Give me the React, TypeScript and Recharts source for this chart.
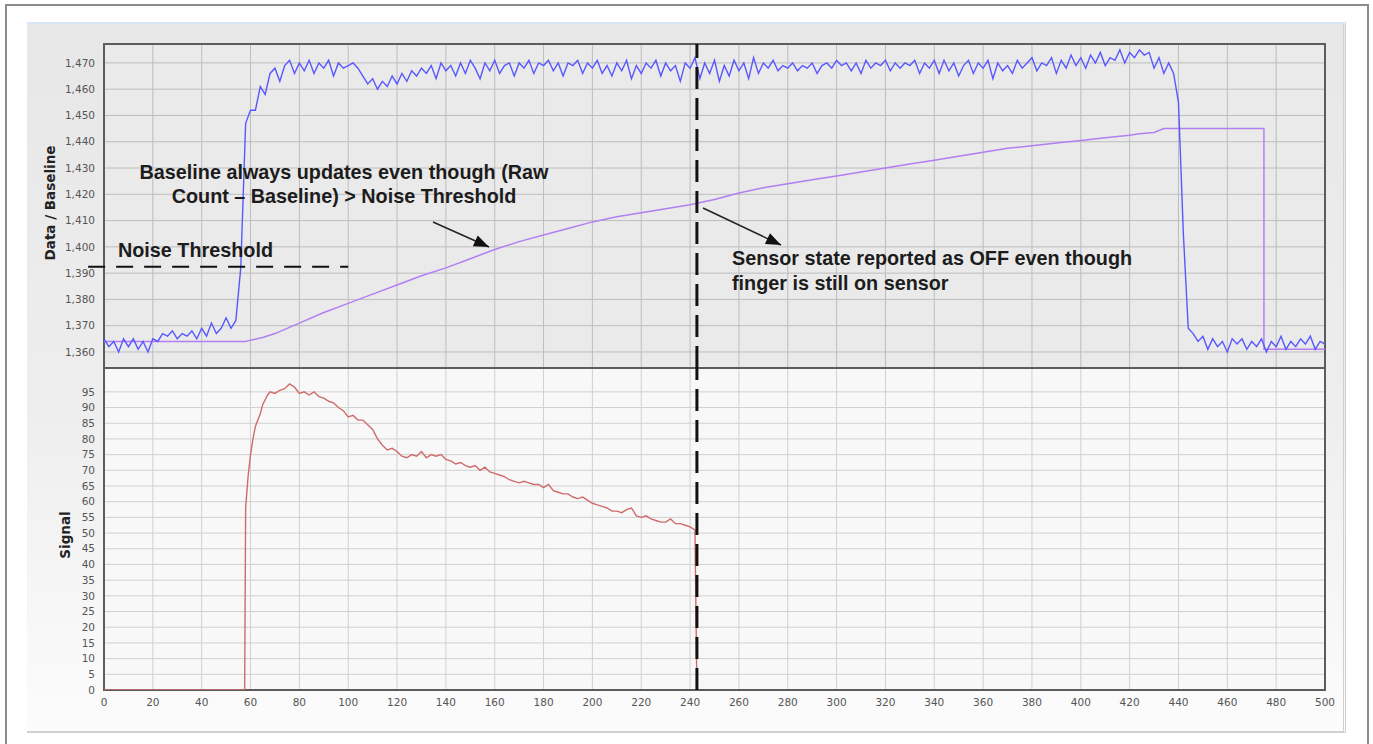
import {
  LineChart,
  Line,
  XAxis,
  YAxis,
  CartesianGrid,
  ReferenceLine,
  ReferenceArea,
} from "recharts";

// sample index -> time, raw counts were logged every 2 samples
const rawStep = 2;

const xTicks = [0, 20, 40, 60, 80, 100, 120, 140, 160, 180, 200, 220, 240, 260, 280, 300, 320, 340, 360, 380, 400, 420, 440, 460, 480, 500];
const dataTicks = [1360, 1370, 1380, 1390, 1400, 1410, 1420, 1430, 1440, 1450, 1460, 1470];
const signalTicks = [0, 5, 10, 15, 20, 25, 30, 35, 40, 45, 50, 55, 60, 65, 70, 75, 80, 85, 90, 95];

const dataDomain = [1353.9, 1477.2];
const signalDomain = [0, 102.6];

const rawCounts = [
  1365, 1362, 1364, 1360, 1365, 1362, 1365, 1361, 1364, 1360, 1365,
  1364, 1367, 1366, 1368, 1365, 1367, 1366, 1368, 1365, 1369,
  1366, 1371, 1367, 1369, 1373, 1369, 1372, 1392,
  1447, 1452, 1452, 1461, 1458,
  1466, 1468, 1463, 1469, 1471, 1466, 1470, 1467, 1471, 1466, 1470, 1468, 1471, 1465, 1470, 1468, 1469,
  1470, 1468, 1465, 1462, 1464, 1460, 1463, 1461, 1465, 1462, 1466, 1463, 1467,
  1465, 1468, 1466, 1469, 1464, 1470, 1467, 1469, 1465, 1470, 1466, 1471, 1468, 1464, 1470, 1467, 1471, 1466, 1469, 1470,
  1465, 1470, 1468, 1471, 1466, 1470, 1469, 1471, 1467, 1470, 1465, 1470, 1469, 1471, 1466, 1470, 1468,
  1471, 1466, 1469, 1465, 1470, 1467, 1471, 1464, 1469, 1466, 1470, 1468, 1471, 1465, 1470, 1467, 1469, 1463, 1470, 1468,
  1472, 1464, 1470, 1466, 1471, 1463, 1469, 1465, 1471, 1467, 1470, 1464, 1472, 1466, 1470, 1468, 1471, 1467, 1469, 1468,
  1470, 1467, 1469, 1468, 1470, 1466, 1469, 1470, 1468, 1471, 1469, 1470, 1467, 1470, 1466,
  1471, 1468, 1470, 1469, 1471, 1467, 1470, 1468, 1470, 1469, 1471, 1466, 1470, 1468, 1471,
  1466, 1471, 1467, 1470, 1465, 1469, 1471, 1466, 1470, 1468, 1471, 1464, 1470, 1467, 1469,
  1466, 1471, 1468, 1470, 1472, 1467, 1470, 1469, 1472, 1466, 1471, 1468, 1473, 1469, 1472,
  1468, 1473, 1470, 1474, 1469, 1472, 1471, 1475, 1470, 1474, 1472, 1475, 1473, 1474, 1468, 1472, 1466, 1470,
  1466, 1455, 1405, 1369, 1367, 1364, 1366, 1361, 1365, 1362, 1364, 1360, 1365, 1363, 1365, 1361,
  1364, 1362, 1365, 1360, 1364, 1362, 1366, 1361, 1364, 1362, 1365, 1363, 1366, 1361, 1364, 1363,
];

// [time, baseline]
const baselineTrace: [number, number][] = [
  [0, 1364], [58, 1364], [60, 1364.5], [65, 1365.5], [70, 1367], [80, 1371], [90, 1375],
  [100, 1378.5], [110, 1382], [120, 1385.5], [130, 1389], [140, 1392], [150, 1395.5],
  [160, 1399], [170, 1402], [180, 1404.5], [190, 1407], [200, 1409.5], [210, 1411.5],
  [220, 1413], [230, 1414.5], [240, 1416], [250, 1418], [260, 1420.5], [270, 1422.5],
  [280, 1424], [290, 1425.5], [300, 1427], [310, 1428.5], [320, 1430], [330, 1431.5],
  [340, 1433], [350, 1434.5], [360, 1436], [370, 1437.5], [380, 1438.5], [390, 1439.5],
  [400, 1440.5], [410, 1441.5], [420, 1442.5], [424, 1443], [430, 1443.5], [434, 1445],
  [475, 1445], [475, 1361], [500, 1361],
];

// [time, signal]
const signalTrace: [number, number][] = [
  [0, 0], [57.6, 0], [58, 58], [59, 68], [60, 75], [61, 80], [62, 84], [63, 86], [64, 88],
  [65, 91], [66, 92.5], [67, 94], [68, 95], [70, 94.5], [72, 95.5], [74, 96], [76, 97.5],
  [78, 96.5], [80, 94.5], [82, 95], [84, 94], [86, 95], [88, 93.5], [90, 93], [92, 92],
  [94, 91.5], [96, 90], [98, 89], [100, 87], [102, 87.5], [104, 86], [106, 86], [108, 84.5],
  [110, 83], [112, 80], [114, 78], [116, 76.5], [118, 77], [120, 76], [122, 74.5], [124, 74],
  [126, 75], [128, 74.5], [130, 76], [132, 74], [134, 75], [136, 74.5], [138, 75], [140, 73.5],
  [142, 73], [144, 72], [146, 72.5], [148, 71.5], [150, 71], [152, 71.5], [154, 70], [156, 71],
  [158, 69.5], [160, 69], [162, 68.5], [164, 68], [166, 67], [168, 66.5], [170, 66], [172, 66.5],
  [174, 66], [176, 65.5], [178, 65.5], [180, 64.5], [182, 65.5], [184, 63.5], [186, 63],
  [188, 62.5], [190, 62.5], [192, 61.5], [194, 61], [196, 61.5], [198, 60.5], [200, 59.5],
  [202, 59], [204, 58.5], [206, 58], [208, 57], [210, 57], [212, 56.5], [214, 57.5], [216, 58],
  [218, 55.5], [220, 55], [222, 55.5], [224, 54.5], [226, 54], [228, 53.5], [230, 53.5],
  [232, 54.5], [234, 53], [236, 53], [238, 52.5], [240, 52], [242, 51], [242.8, 0],
];

const sensorOffAt = 242.8;
const noiseThreshold = 1392.4;

const rawPoints = rawCounts.map((v, i) => ({ x: i * rawStep, y: v }));
const basePoints = baselineTrace.map(([x, y]) => ({ x, y }));
const signalPoints = signalTrace.map(([x, y]) => ({ x, y }));

const tickStyle = { fontFamily: "DejaVu Sans", fontSize: 10.5, fill: "#555" };
const noteFont = "Liberation Sans, Arial, sans-serif";

const arrowHead = (x1: number, y1: number, x2: number, y2: number) => {
  const dx = x2 - x1;
  const dy = y2 - y1;
  const len = Math.hypot(dx, dy);
  const ux = dx / len;
  const uy = dy / len;
  const bx = x2 - ux * 15;
  const by = y2 - uy * 15;
  return `${x2},${y2} ${bx - uy * 6},${by + ux * 6} ${bx + uy * 6},${by - ux * 6}`;
};

const Arrow = ({ x1, y1, x2, y2 }: { x1: number; y1: number; x2: number; y2: number }) => (
  <g>
    <line x1={x1} y1={y1} x2={x2} y2={y2} stroke="#222" strokeWidth={1.5} />
    <polygon points={arrowHead(x1, y1, x2, y2)} fill="#111" />
  </g>
);

export default function App() {
  return (
    <div style={{ position: "absolute", left: 0, top: 0, width: 1373, height: 744, background: "#fff", overflow: "hidden" }}>
      <div style={{ position: "absolute", left: 5, top: 4, width: 1360, height: 780, border: "2px solid #8c8c8c" }} />
      <div
        style={{
          position: "absolute",
          left: 27,
          top: 22,
          width: 1316,
          height: 707,
          background: "linear-gradient(to bottom, #e7e7e7 0%, #eeeeee 55%, #fcfcfc 100%)",
          borderTop: "2px solid #d6e4f5",
          borderRight: "3px double #d0d0d0",
          borderBottom: "2px solid #d0d0d0",
        }}
      />

      <LineChart
        width={1373}
        height={368}
        margin={{ top: 44, right: 48, bottom: 0, left: 44 }}
        style={{ position: "absolute", left: 0, top: 0 }}
      >
        <CartesianGrid stroke="#bdbdbd" fill="#eaeaea" />
        <XAxis type="number" dataKey="x" domain={[0, 500]} ticks={xTicks} interval={0} hide allowDataOverflow />
        <YAxis
          type="number"
          domain={dataDomain}
          ticks={dataTicks}
          interval={0}
          width={60}
          allowDataOverflow
          tickLine={false}
          axisLine={false}
          tickSize={0}
          tickMargin={9}
          tick={tickStyle}
          tickFormatter={(v: number) => v.toLocaleString("en-US")}
        />
        <Line data={basePoints} dataKey="y" type="linear" stroke="#b27ff2" strokeWidth={1.5} dot={false} isAnimationActive={false} />
        <Line data={rawPoints} dataKey="y" type="linear" stroke="#5858ff" strokeWidth={1.4} dot={false} isAnimationActive={false} />
        <ReferenceLine x={sensorOffAt} stroke="#111" strokeWidth={3} strokeDasharray="22 9" />
        <ReferenceLine
          segment={[{ x: -6.5, y: noiseThreshold }, { x: 100, y: noiseThreshold }]}
          ifOverflow="visible"
          stroke="#111"
          strokeWidth={2}
          strokeDasharray="17 11"
        />
        <ReferenceArea x1={0} x2={500} y1={dataDomain[0]} y2={dataDomain[1]} fill="none" stroke="#5c5c5c" strokeWidth={2} />
      </LineChart>

      <LineChart
        width={1373}
        height={376}
        margin={{ top: 0, right: 48, bottom: 24, left: 44 }}
        style={{ position: "absolute", left: 0, top: 368 }}
      >
        <CartesianGrid stroke="#d0d0d0" fill="#f8f8f8" />
        <XAxis
          type="number"
          dataKey="x"
          domain={[0, 500]}
          ticks={xTicks}
          interval={0}
          height={30}
          allowDataOverflow
          tickLine={false}
          axisLine={false}
          tickSize={0}
          tickMargin={9}
          tick={tickStyle}
        />
        <YAxis
          type="number"
          domain={signalDomain}
          ticks={signalTicks}
          interval={0}
          width={60}
          allowDataOverflow
          tickLine={false}
          axisLine={false}
          tickSize={0}
          tickMargin={9}
          tick={tickStyle}
        />
        <Line data={signalPoints} dataKey="y" type="linear" stroke="#cf6b6b" strokeWidth={1.4} dot={false} isAnimationActive={false} />
        <ReferenceLine x={sensorOffAt} stroke="#111" strokeWidth={3} strokeDasharray="22 9" />
        <ReferenceArea x1={0} x2={500} y1={signalDomain[0]} y2={signalDomain[1]} fill="none" stroke="#5c5c5c" strokeWidth={2} />
      </LineChart>

      <svg width={1373} height={744} style={{ position: "absolute", left: 0, top: 0, pointerEvents: "none" }}>
        <text x={50} y={203} transform="rotate(-90 50 203)" textAnchor="middle" dominantBaseline="central" fontFamily="DejaVu Sans" fontWeight="bold" fontSize={13.5} fill="#222">
          Data / Baseline
        </text>
        <text x={65} y={535} transform="rotate(-90 65 535)" textAnchor="middle" dominantBaseline="central" fontFamily="DejaVu Sans" fontWeight="bold" fontSize={13.5} fill="#222">
          Signal
        </text>
        <g fontFamily={noteFont} fontWeight="bold" fontSize={19.8} fill="#1c1c1c">
          <text x={344} y={172} textAnchor="middle" dominantBaseline="central">Baseline always updates even though (Raw</text>
          <text x={344} y={196} textAnchor="middle" dominantBaseline="central">Count – Baseline) &gt; Noise Threshold</text>
          <text x={118} y={250} dominantBaseline="central">Noise Threshold</text>
          <text x={732} y={258} dominantBaseline="central">Sensor state reported as OFF even though</text>
          <text x={732} y={283} dominantBaseline="central">finger is still on sensor</text>
        </g>
        <Arrow x1={433} y1={222} x2={489} y2={247} />
        <Arrow x1={703} y1={208} x2={781} y2={245} />
      </svg>
    </div>
  );
}
